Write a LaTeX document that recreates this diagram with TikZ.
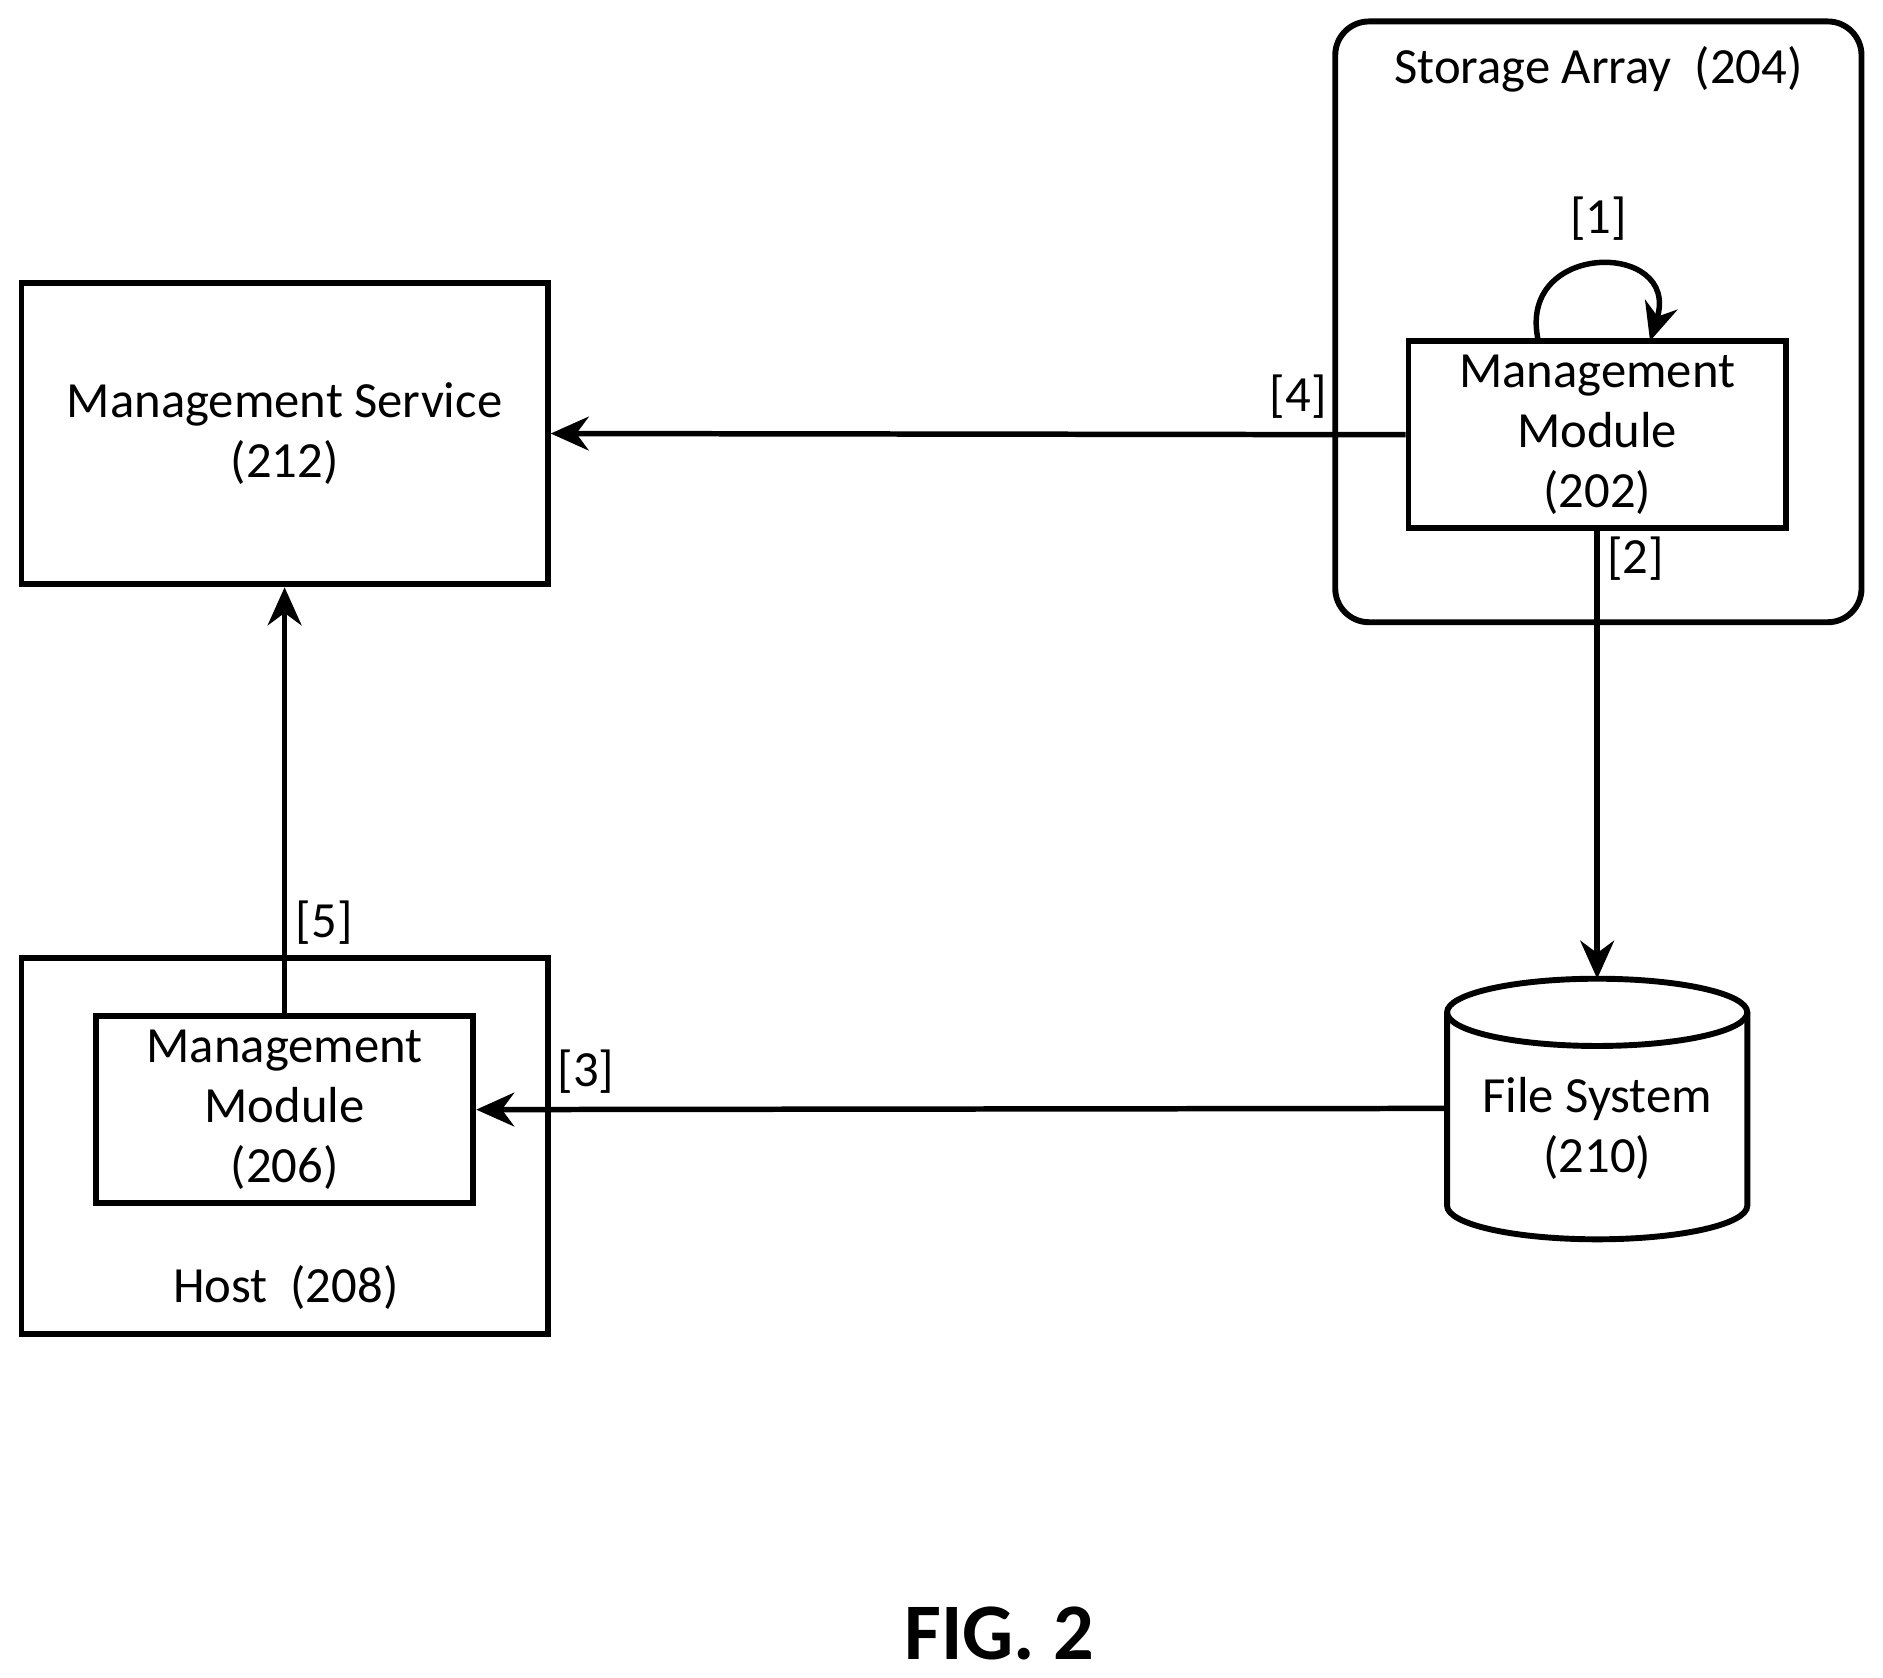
\documentclass[tikz,border=0pt]{standalone}
\usepackage{fontspec}
\setmainfont{Carlito}
\usetikzlibrary{arrows.meta}
\begin{document}
\begin{tikzpicture}[x=0.01cm,y=-0.01cm,
  box/.style={draw,line width=1.4pt,inner sep=0pt},
  txt/.style={font=\fontsize{12}{14.2}\selectfont,align=center},
  arr/.style={line width=1.3pt,-{Stealth[length=9pt,width=8pt]}}]
\useasboundingbox (0,0) rectangle (1568,1397);
% storage array
\node[box,rounded corners=8pt,minimum width=4.38cm,minimum height=5.0cm] (sa) at (1331,268) {};
\node[txt] (salab) at (1331,58) {Storage Array\ \ (204)};
\node[box,minimum width=3.14cm,minimum height=1.56cm,txt] (mm1) at (1330,362) {Management\\Module\\(202)};
\draw[arr] (1281,284) .. controls (1262,200) and (1400,200) .. (1374,284);
\node[txt] (l1) at (1331,182) {[1]};
% management service
\node[box,minimum width=4.38cm,minimum height=2.51cm,txt] (ms) at (237,361) {Management Service\\(212)};
\draw[arr] (mm1.west) -- (ms.east);
\node[txt] (l4) at (1081,330) {[4]};
% file system
\coordinate (fst) at (1330,815);
\draw[line width=1.4pt,fill=white] (1205,843) -- (1205,1004) arc[start angle=180,end angle=0,x radius=125,y radius=28] -- (1455,843);
\draw[line width=1.4pt] (1330,843) ellipse[x radius=125,y radius=28];
\node[txt] (fs) at (1330,940) {File System\\(210)};
\coordinate (fsw) at (1205,923);
\draw[arr] (mm1.south) -- (fst);
\node[txt] (l2) at (1362,465) {[2]};
% host
\node[box,minimum width=4.38cm,minimum height=3.13cm] (host) at (237,954) {};
\node[txt] (hostlab) at (238,1072) {Host\ \ (208)};
\node[box,minimum width=3.14cm,minimum height=1.56cm,txt] (mm2) at (237,924) {Management\\Module\\(206)};
\draw[arr] (fsw) -- (mm2.east);
\node[txt] (l3) at (488,892) {[3]};
\draw[arr] (mm2.north) -- (ms.south);
\node[txt] (l5) at (270,768) {[5]};
\node[font=\fontsize{19}{22}\selectfont\bfseries] (fig) at (832,1360) {FIG. 2};
\end{tikzpicture}
\end{document}
